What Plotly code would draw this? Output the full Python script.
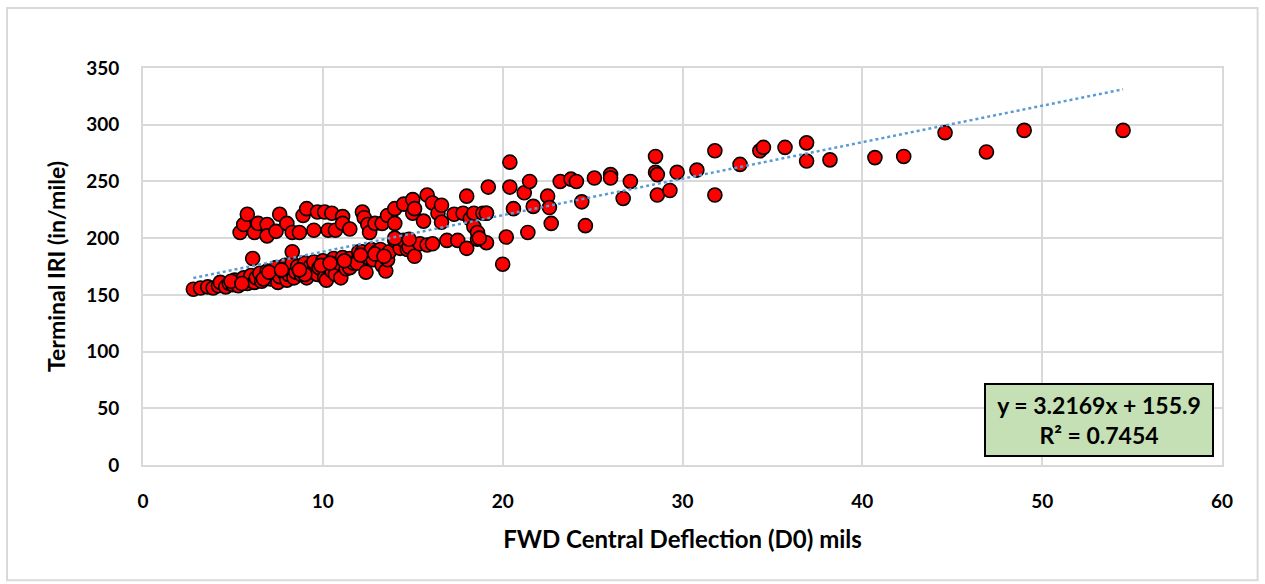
import plotly.graph_objects as go

# Lower (sloped) band of observations
low_x = [2.8, 3.2, 3.6, 3.9, 4.2, 4.3, 4.6, 4.8, 5.0, 5.1, 5.3, 5.4, 5.6, 5.8, 5.9, 6.0, 6.2, 6.3, 6.5, 6.6,
         6.8, 6.9, 7.1, 7.2, 7.4, 7.5, 7.6, 7.8, 7.9, 8.0, 8.1, 8.2, 8.3, 8.4, 8.5, 8.6, 8.8, 8.9, 9.0, 9.1,
         9.3, 9.4, 9.5, 9.7, 9.8, 10.0, 10.1, 10.2, 10.3, 10.5, 10.6, 10.7, 10.9, 11.0, 11.1, 11.3, 11.5, 11.5,
         11.7, 11.9, 12.0, 12.2, 12.4, 12.5, 12.7, 12.8, 13.0, 13.2, 13.3, 13.5, 13.6, 13.7, 14.0, 14.3, 14.5,
         14.7, 14.8, 15.1, 15.4, 15.8, 16.1, 16.9, 17.5, 18.0, 18.6, 19.1, 20.2, 20.0, 6.1, 8.3, 14.0, 14.8,
         9.0, 4.9, 5.5, 6.7, 7.0, 7.7, 8.7, 9.9, 10.4, 11.2, 12.1, 12.9, 13.4]
low_y = [155, 156, 157, 156, 158, 161, 157, 160, 159, 163, 158, 162, 165, 160, 163, 167, 161, 165, 169, 162,
         166, 171, 164, 168, 174, 161, 166, 170, 176, 163, 168, 173, 178, 165, 170, 175, 168, 172, 178, 165,
         175, 170, 179, 168, 174, 180, 165, 163, 176, 171, 182, 168, 178, 165, 183, 173, 182, 174,
         178, 178, 188, 188, 170, 183, 190, 181, 188, 190, 176, 171, 181, 188, 198, 191, 198,
         190, 192, 184, 195, 194, 195, 198, 198, 191, 199, 196, 201, 177, 182, 188, 200, 199,
         168, 162, 160, 164, 170, 172, 172, 176, 178, 180, 185, 186, 184]

# Upper band of observations
up_x = [5.4, 5.6, 5.8, 6.2, 6.4, 6.9, 6.9, 7.4, 7.6, 8.0, 8.3, 8.7, 8.9, 9.1, 9.5, 9.7, 10.1, 10.3, 10.5,
        10.7, 11.1, 11.1, 11.5, 12.2, 12.3, 12.5, 12.6, 12.9, 13.3, 13.6, 14.0, 14.0, 14.5, 15.0, 15.0, 15.1,
        15.6, 15.8, 16.1, 16.4, 16.6, 16.6, 17.3, 17.8, 18.0, 18.2, 18.4, 18.4, 18.6, 18.9, 19.1, 19.2, 20.4,
        20.4, 18.7, 19.1]
up_y = [205, 212, 221, 205, 213, 212, 202, 206, 221, 213, 205, 205, 220, 226, 207, 223, 223, 207, 222,
        207, 219, 213, 208, 223, 218, 212, 205, 213, 213, 220, 213, 226, 230, 222, 234, 226,
        215, 238, 231, 222, 229, 214, 221, 222, 237, 217, 222, 210, 205, 222, 222, 245, 245,
        267, 200, 222]

# High-deflection observations
hi_x = [20.6, 21.2, 21.4, 21.5, 21.7, 22.5, 22.6, 22.7, 23.2, 23.8, 24.1, 24.4, 24.6, 25.1, 26.0, 26.0,
        26.7, 27.1, 28.5, 28.5, 28.6, 28.6, 29.3, 29.7, 30.8, 31.8, 31.8, 33.2, 34.3, 34.5, 35.7, 36.9,
        36.9, 38.2, 40.7, 42.3, 44.6, 46.9, 49.0, 54.5]
hi_y = [226, 240, 205, 250, 228, 237, 227, 213, 250, 252, 250, 232, 211, 253, 256, 253,
        235, 250, 272, 258, 256, 238, 242, 258, 260, 277, 238, 265, 277, 280, 280, 284,
        268, 269, 271, 272, 293, 276, 295, 295]

x_data = low_x + up_x + hi_x
y_data = low_y + up_y + hi_y

slope = 3.2169
intercept = 155.9
trend_x = [min(x_data), max(x_data)]
trend_y = [slope * v + intercept for v in trend_x]

x_ticks = [0, 10, 20, 30, 40, 50, 60]
y_ticks = [0, 50, 100, 150, 200, 250, 300, 350]

FONT = "Lato"
GRID = "#D9D9D9"

fig = go.Figure()
fig.add_trace(go.Scatter(
    x=x_data, y=y_data, mode="markers",
    marker=dict(color="#FF0000", size=14, line=dict(color="#000000", width=1.6)),
    showlegend=False, hoverinfo="x+y"))
fig.add_trace(go.Scatter(
    x=trend_x, y=trend_y, mode="lines",
    line=dict(color="#5B9BD5", width=2.5, dash="dot"),
    showlegend=False, hoverinfo="skip"))

fig.update_layout(
    width=1265, height=584,
    margin=dict(l=143, r=43, t=68, b=119),
    paper_bgcolor="white", plot_bgcolor="white",
    font=dict(family=FONT, color="#000000"),
    xaxis=dict(range=[0, 60], tickvals=x_ticks, showgrid=True, gridcolor=GRID, gridwidth=2,
               showline=True, linecolor=GRID, linewidth=2, mirror=True, zeroline=False,
               ticks="", ticklabelstandoff=18,
               tickfont=dict(family=FONT, size=19, color="#000000", weight="bold"),
               title=dict(text="<b>FWD Central Deflection (D0) mils</b>",
                          font=dict(family=FONT, size=24, color="#000000"), standoff=20)),
    yaxis=dict(range=[0, 350], tickvals=y_ticks, showgrid=True, gridcolor=GRID, gridwidth=2,
               showline=True, linecolor=GRID, linewidth=2, mirror=True, zeroline=False,
               ticks="", ticklabelstandoff=18,
               tickfont=dict(family=FONT, size=19, color="#000000", weight="bold"),
               title=dict(text="<b>Terminal IRI (in/mile)</b>",
                          font=dict(family=FONT, size=23, color="#000000"), standoff=14)),
    shapes=[dict(type="rect", xref="paper", yref="paper",
                 x0=-0.126, x1=1.033, y0=-0.290, y1=1.151,
                 line=dict(color=GRID, width=2), fillcolor="rgba(0,0,0,0)", layer="below")],
    annotations=[dict(xref="paper", yref="paper", x=0.886, y=0.113,
                      xanchor="center", yanchor="middle", showarrow=False,
                      text=f"<b>y = {slope}x + {intercept}<br>R² = 0.7454</b>",
                      font=dict(family=FONT, size=23, color="#000000"),
                      bgcolor="#C5E0B4", bordercolor="#000000", borderwidth=2, borderpad=3,
                      width=220, height=64, align="center")],
)

fig.write_html("out.html")
